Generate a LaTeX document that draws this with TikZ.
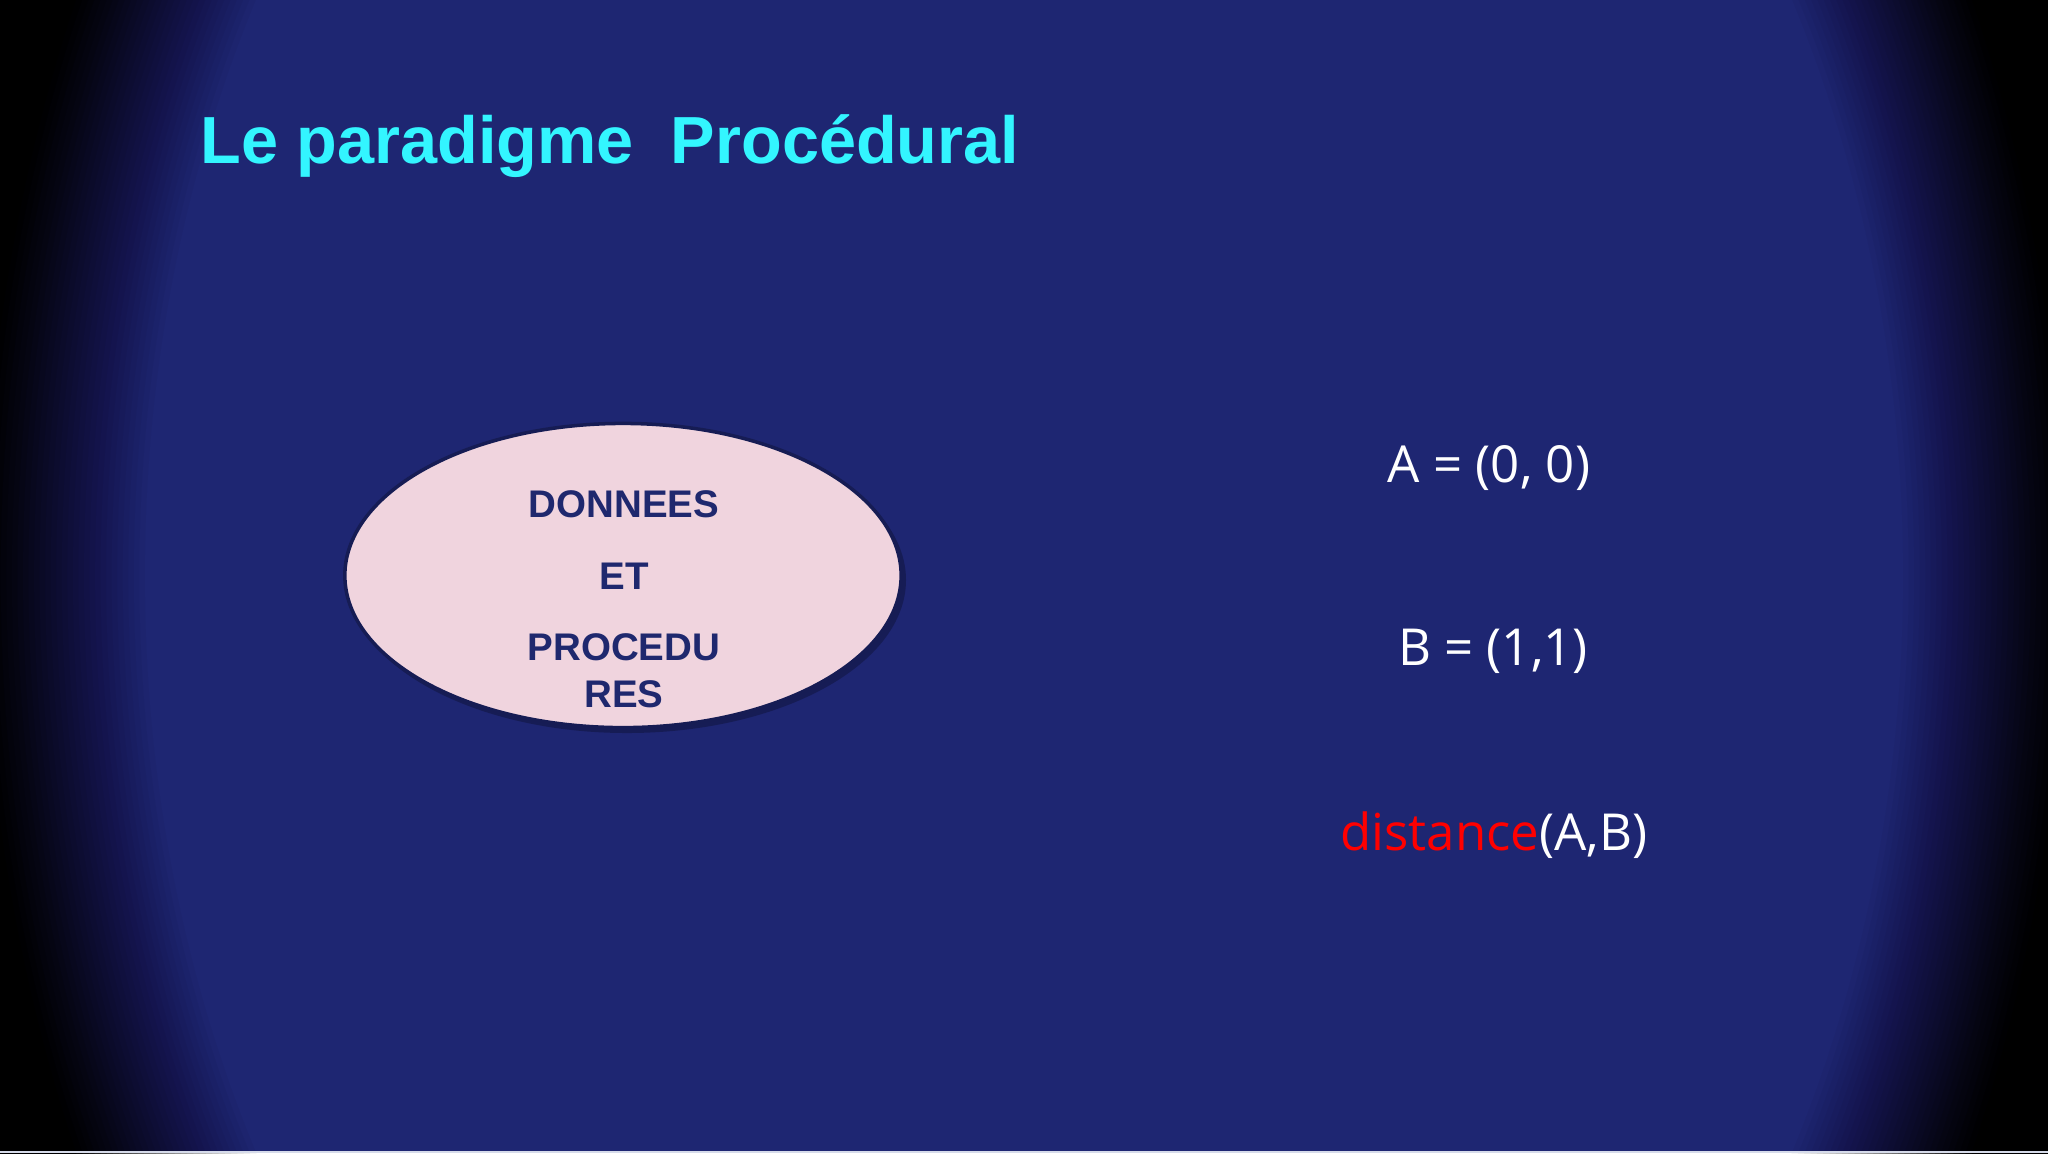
\documentclass[tikz,border=0pt]{standalone}
\usepackage{fontspec}
\setmainfont{Liberation Sans}
\newfontfamily\opensans{Open Sans}
\usetikzlibrary{shapes.geometric}
\definecolor{bgblue}{RGB}{30,38,114}
\definecolor{titlecyan}{RGB}{51,245,255}
\definecolor{ellfill}{RGB}{240,212,222}
\definecolor{ellline}{RGB}{22,28,84}
\definecolor{elltext}{RGB}{31,40,110}
\definecolor{stripc}{RGB}{214,219,234}
\tikzset{
  titletext/.style={anchor=base west, inner sep=0pt, text=titlecyan, font=\fontsize{18.95pt}{23pt}\selectfont\bfseries},
  elltxt/.style={anchor=base, inner sep=0pt, text=elltext, font=\fontsize{10.95pt}{13pt}\selectfont\bfseries},
  codetxt/.style={anchor=base, inner sep=0pt, text=white, font=\opensans\fontsize{14.5pt}{17pt}\selectfont},
  bubble/.style={ellipse, draw=ellline, line width=1pt, fill=ellfill, inner sep=0pt, minimum width=5.56cm, minimum height=3.04cm},
  vignring/.style={fill=black, even odd rule}
}
\begin{document}
\begin{tikzpicture}[x=0.01cm,y=-0.01cm]
\useasboundingbox (0,0) rectangle (2048,1153);
\fill[bgblue] (0,0) rectangle (2048,1153);
% vignette: stacked translucent frames outside growing ellipses (linear fade)
\foreach \k in {1,...,30} {
  \pgfmathsetmacro{\f}{0.84+0.16*\k/30}
  \pgfmathsetmacro{\rx}{1040*\f}
  \pgfmathsetmacro{\ry}{1400*\f}
  \pgfmathsetmacro{\op}{1/(31-\k)}
  \fill[vignring, fill opacity=\op] (-10,-10) rectangle (2058,1163) (1024,576) ellipse [x radius=\rx, y radius=\ry];
}
\fill[stripc] (0,1151) rectangle (2048,1153);
% title
\node[titletext] (title) at (200,163) {Le paradigme\ \ Procédural};
% ellipse
\fill[black, opacity=0.25] (627,580) ellipse [x radius=279, y radius=153];
\node[bubble] (bub) at (623,575.5) {};
\node[elltxt] (l1) at (624,517) {DONNEES};
\node[elltxt] (l2) at (624,589) {ET};
\node[elltxt] (l3) at (624,660) {PROCEDU};
\node[elltxt] (l4) at (624,707) {RES};
% right texts
\node[codetxt] (ta) at (1489,482) {A = (0, 0)};
\node[codetxt] (tb) at (1493,665) {B = (1,1)};
\node[codetxt] (tc) at (1494,850) {\textcolor{red}{distance}(A,B)};
\end{tikzpicture}
\end{document}
